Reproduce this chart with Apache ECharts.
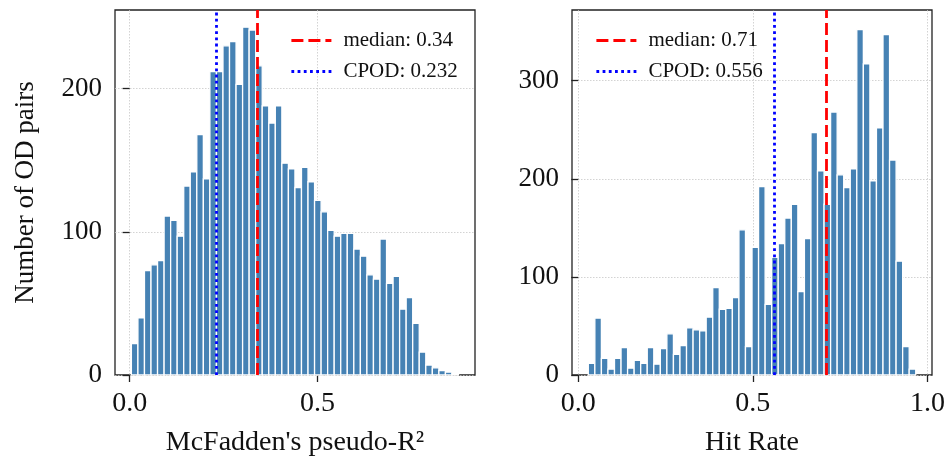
<!DOCTYPE html>
<html>
<head>
<meta charset="utf-8">
<script src="https://cdn.jsdelivr.net/npm/echarts@6/dist/echarts.min.js"></script>
<style>
html,body{margin:0;padding:0;background:#fff;}
#chart{width:952px;height:461px;}
</style>
</head>
<body>
<div id="chart"></div>
<script>
// ---- Data ----
// Left: McFadden's pseudo-R² histogram (50 bins)
const leftBinStart = 0.0046;
const leftBinWidth = 0.01741;
const leftCounts = [22, 40, 73, 77, 80, 111, 108, 97, 132, 142,
                    168, 137, 212, 212, 230, 233, 203, 243, 241, 216,
                    188, 176, 188, 148, 144, 131, 145, 135, 122, 114,
                    101, 97, 99, 99, 88, 83, 70, 67, 95, 64,
                    69, 46, 54, 36, 16, 7, 5, 3, 2, 1];
const leftMedian = 0.34;
const leftCPOD = 0.232;
const leftXTicks = [0.0, 0.5];
const leftYTicks = [0, 100, 200];

// Right: Hit Rate histogram (50 bins)
const rightBinStart = 0.0287;
const rightBinWidth = 0.018755;
const rightCounts = [12, 58, 17, 6, 17, 28, 7, 15, 12, 28,
                     11, 27, 42, 21, 30, 48, 46, 45, 59, 89,
                     67, 68, 79, 148, 29, 130, 192, 72, 120, 134,
                     160, 174, 85, 139, 247, 208, 174, 268, 204, 191,
                     210, 352, 317, 198, 252, 347, 219, 116, 29, 6];
const rightMedian = 0.71;
const rightCPOD = 0.556;
const rightXTicks = [0.0, 0.5, 1.0];
const rightYTicks = [0, 100, 200, 300];

const xTitles = ["McFadden's pseudo-R²", "Hit Rate"];
const yTitle = "Number of OD pairs";

// ---- Build ----
function bins(start, width, counts){
  return counts.map((c, i) => [start + i*width, start + (i+1)*width, c]);
}
const FONT = "'Liberation Serif','Times New Roman',serif";
const BAR = '#4682B4';

function renderBar(params, api){
  const p0 = api.coord([api.value(0), api.value(2)]);
  const p1 = api.coord([api.value(1), 0]);
  return {
    type: 'rect',
    shape: {x: p0[0], y: p0[1], width: p1[0]-p0[0], height: p1[1]-p0[1]},
    style: {fill: BAR, stroke: '#ffffff', lineWidth: 1.3}
  };
}

function xAxis(idx, min, max, ticks, name){
  return {
    type: 'value', gridIndex: idx, min: min, max: max,
    name: name, nameLocation: 'middle', nameGap: 54,
    nameTextStyle: {fontFamily: FONT, fontSize: 28, color: '#111'},
    axisLine: {show: false},
    axisTick: {show: true, inside: false, length: 7, lineStyle: {color: '#222', width: 1.3}, customValues: ticks},
    axisLabel: {show: true, fontFamily: FONT, fontSize: 28, color: '#111', margin: 15,
      customValues: ticks, formatter: v => v.toFixed(1)},
    splitLine: {show: true, lineStyle: {color: '#c8c8c8', type: [1.5, 1.5], width: 0.8}}
  };
}
function yAxis(idx, max, ticks, name){
  return {
    type: 'value', gridIndex: idx, min: 0, max: max,
    name: name, nameLocation: 'middle', nameGap: 76, nameRotate: 90,
    nameTextStyle: {fontFamily: FONT, fontSize: 27, color: '#111'},
    axisLine: {show: false},
    axisTick: {show: true, inside: false, length: 7, lineStyle: {color: '#222', width: 1.3}, customValues: ticks},
    axisLabel: {show: true, fontFamily: FONT, fontSize: 27, color: '#111', margin: 13,
      customValues: ticks, formatter: v => String(v)},
    splitLine: {show: true, lineStyle: {color: '#c8c8c8', type: [1.5, 1.5], width: 0.8}}
  };
}

const dashStyle = {color: '#ff0000', type: [12, 5], width: 2.8};
const dotStyle = {color: '#0000ff', type: [2.8, 3.4], width: 2.8};

function vline(name, xi, yi, value, style){
  return {
    type: 'line', name: name, xAxisIndex: xi, yAxisIndex: yi,
    data: [], symbol: 'none', lineStyle: style, itemStyle: {color: style.color},
    z: 5,
    markLine: {silent: true, symbol: ['none','none'], label: {show: false},
      lineStyle: style, data: [{xAxis: value}], animation: false}
  };
}

const medL = 'median: ' + leftMedian;
const cpodL = 'CPOD: ' + leftCPOD;
const medR = 'median: ' + rightMedian;
const cpodR = 'CPOD: ' + rightCPOD;

const legendCommon = {
  orient: 'vertical', itemWidth: 40, itemHeight: 12, itemGap: 10,
  textStyle: {fontFamily: FONT, fontSize: 21, color: '#111', padding: [0, 0, 0, 7]},
  itemStyle: {opacity: 0},
  lineStyle: {width: 'inherit', type: 'inherit'}
};

const option = {
  animation: false,
  backgroundColor: '#ffffff',
  grid: [
    {left: 115, right: 477, top: 10, bottom: 86, show: true, borderColor: '#222', borderWidth: 1.3,
     backgroundColor: 'transparent', outerBoundsMode: 'none', containLabel: false},
    {left: 572, right: 20, top: 10, bottom: 86, show: true, borderColor: '#222', borderWidth: 1.3,
     backgroundColor: 'transparent', outerBoundsMode: 'none', containLabel: false}
  ],
  xAxis: [
    xAxis(0, -0.039, 0.919, leftXTicks, xTitles[0]),
    xAxis(1, -0.018, 1.013, rightXTicks, xTitles[1])
  ],
  yAxis: [
    yAxis(0, 255, leftYTicks, yTitle),
    yAxis(1, 372, rightYTicks, '')
  ],
  legend: [
    Object.assign({}, legendCommon, {data: [medL, cpodL], left: 285, top: 25}),
    Object.assign({}, legendCommon, {data: [medR, cpodR], left: 590, top: 25})
  ],
  series: [
    {type: 'custom', name: 'left hist', xAxisIndex: 0, yAxisIndex: 0, renderItem: renderBar,
     encode: {x: [0,1], y: 2}, data: bins(leftBinStart, leftBinWidth, leftCounts), z: 2},
    {type: 'custom', name: 'right hist', xAxisIndex: 1, yAxisIndex: 1, renderItem: renderBar,
     encode: {x: [0,1], y: 2}, data: bins(rightBinStart, rightBinWidth, rightCounts), z: 2},
    vline(medL, 0, 0, leftMedian, dashStyle),
    vline(cpodL, 0, 0, leftCPOD, dotStyle),
    vline(medR, 1, 1, rightMedian, dashStyle),
    vline(cpodR, 1, 1, rightCPOD, dotStyle)
  ]
};

const chart = echarts.init(document.getElementById('chart'), null, {renderer: 'canvas'});
chart.setOption(option);
</script>
</body>
</html>
